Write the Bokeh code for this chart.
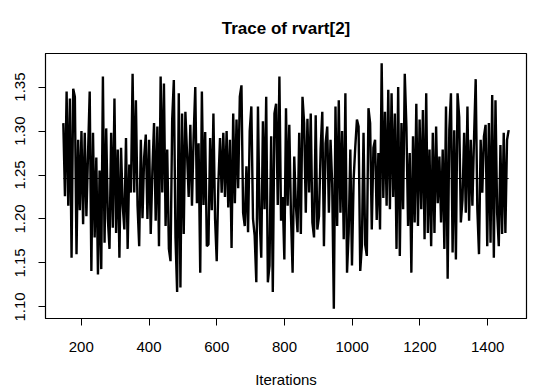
import numpy as np
from bokeh.plotting import figure
from bokeh.models import Range1d, PrintfTickFormatter, FixedTicker
from bokeh.embed import file_html
from bokeh.resources import INLINE

# ---- data ----
iter_start = 147
iter_end = 1462
rvart2 = [
    1.309, 1.226, 1.345, 1.215, 1.337, 1.156, 1.348, 1.339, 1.160, 1.290,
    1.210, 1.300, 1.194, 1.298, 1.203, 1.275, 1.345, 1.141, 1.298, 1.179,
    1.270, 1.137, 1.255, 1.143, 1.362, 1.173, 1.303, 1.200, 1.166, 1.298,
    1.190, 1.337, 1.184, 1.279, 1.156, 1.281, 1.215, 1.188, 1.292, 1.166,
    1.262, 1.230, 1.365,
    1.230, 1.335, 1.215, 1.169, 1.290, 1.201, 1.270, 1.296, 1.200, 1.290,
    1.183, 1.255, 1.309, 1.198, 1.305, 1.169, 1.362, 1.230, 1.354, 1.192,
    1.279, 1.166, 1.152, 1.313, 1.358, 1.179, 1.117, 1.343, 1.122, 1.320,
    1.183, 1.322, 1.275, 1.225, 1.307, 1.215, 1.294, 1.350, 1.218, 1.286,
    1.139, 1.345, 1.216, 1.299, 1.169,
    1.171, 1.292, 1.210, 1.320, 1.200, 1.152, 1.240, 1.292, 1.230, 1.298,
    1.225, 1.300, 1.213, 1.290, 1.167, 1.320, 1.218, 1.313, 1.235, 1.339,
    1.352, 1.207, 1.192, 1.260, 1.185, 1.300, 1.328, 1.200, 1.181, 1.128,
    1.328, 1.200, 1.156, 1.311, 1.211, 1.339, 1.128, 1.147, 1.294, 1.117,
    1.320, 1.331, 1.216, 1.362, 1.198,
    1.225, 1.154, 1.326, 1.215, 1.307, 1.205, 1.139, 1.271, 1.215, 1.185,
    1.298, 1.183, 1.339, 1.309, 1.207, 1.314, 1.230, 1.320, 1.196, 1.179,
    1.318, 1.188, 1.203, 1.280, 1.322, 1.169, 1.286, 1.305, 1.207, 1.290,
    1.240, 1.098, 1.328, 1.192, 1.335, 1.207, 1.300, 1.177, 1.343, 1.139,
    1.185, 1.279, 1.147, 1.245, 1.282,
    1.313, 1.305, 1.141, 1.170, 1.298, 1.171, 1.158, 1.326, 1.309, 1.188,
    1.281, 1.290, 1.199, 1.275, 1.188, 1.377, 1.224, 1.322, 1.215, 1.347,
    1.211, 1.343, 1.225, 1.320, 1.166, 1.350, 1.158, 1.309, 1.211, 1.365,
    1.305, 1.192, 1.275, 1.139, 1.294, 1.196, 1.331, 1.192, 1.313, 1.211,
    1.324, 1.177, 1.343, 1.184, 1.279,
    1.169, 1.298, 1.184, 1.305, 1.218, 1.271, 1.196, 1.279, 1.166, 1.328,
    1.132, 1.301, 1.343, 1.162, 1.301, 1.154, 1.343, 1.316, 1.196, 1.222,
    1.298, 1.207, 1.328, 1.198, 1.290, 1.215, 1.292, 1.359, 1.211, 1.160,
    1.290, 1.230, 1.294, 1.307, 1.169, 1.309, 1.173, 1.341, 1.156, 1.335,
    1.207, 1.169, 1.284, 1.183, 1.298, 1.184, 1.290, 1.301,
]
mean_level = 1.246
x_ticks = [200, 400, 600, 800, 1000, 1200, 1400]
y_ticks = [1.10, 1.15, 1.20, 1.25, 1.30, 1.35]
title_text = "Trace of rvart[2]"
x_label = "Iterations"

iterations = np.linspace(iter_start, iter_end, len(rvart2))
vals = np.array(rvart2)

# R-style 4% range extension
xr = iterations.max() - iterations.min()
yr = vals.max() - vals.min()
x_range = Range1d(iterations.min() - 0.04 * xr, iterations.max() + 0.04 * xr)
y_range = Range1d(vals.min() - 0.04 * yr, vals.max() + 0.04 * yr)

FONT = "Liberation Sans"

p = figure(width=535, height=392, output_backend="svg", toolbar_location=None,
           x_range=x_range, y_range=y_range, title=title_text,
           min_border_left=45, min_border_right=9, min_border_top=52,
           min_border_bottom=74)
p.background_fill_color = "white"
p.border_fill_color = "white"
p.grid.visible = False
p.outline_line_color = "black"
p.outline_line_width = 1.2

p.title.align = "center"
p.title.vertical_align = "bottom"
p.title.text_font = FONT
p.title.text_font_size = "17px"
p.title.text_font_style = "bold"
p.title.text_color = "black"
p.title.standoff = 32

for ax in (p.xaxis[0], p.yaxis[0]):
    ax.axis_line_color = "black"
    ax.major_tick_line_color = "black"
    ax.major_tick_out = 7
    ax.major_tick_in = 0
    ax.minor_tick_line_color = None
    ax.major_label_text_font = FONT
    ax.major_label_text_font_size = "15px"
    ax.major_label_text_color = "black"

p.xaxis[0].major_label_standoff = 16
p.yaxis[0].major_label_standoff = 13
p.xaxis[0].ticker = FixedTicker(ticks=x_ticks)
p.yaxis[0].ticker = FixedTicker(ticks=y_ticks)
p.yaxis[0].formatter = PrintfTickFormatter(format="%.2f")
p.yaxis[0].major_label_orientation = "vertical"

p.xaxis[0].axis_label = x_label
p.xaxis[0].axis_label_text_font = FONT
p.xaxis[0].axis_label_text_font_size = "15px"
p.xaxis[0].axis_label_text_font_style = "normal"
p.xaxis[0].axis_label_text_color = "black"
p.xaxis[0].axis_label_standoff = 16

p.line([iterations.min(), iterations.max()], [mean_level, mean_level],
       line_color="black", line_width=1)
p.line(iterations, vals, line_color="black", line_width=2.4)

open("out.html", "w").write(file_html(p, INLINE))
